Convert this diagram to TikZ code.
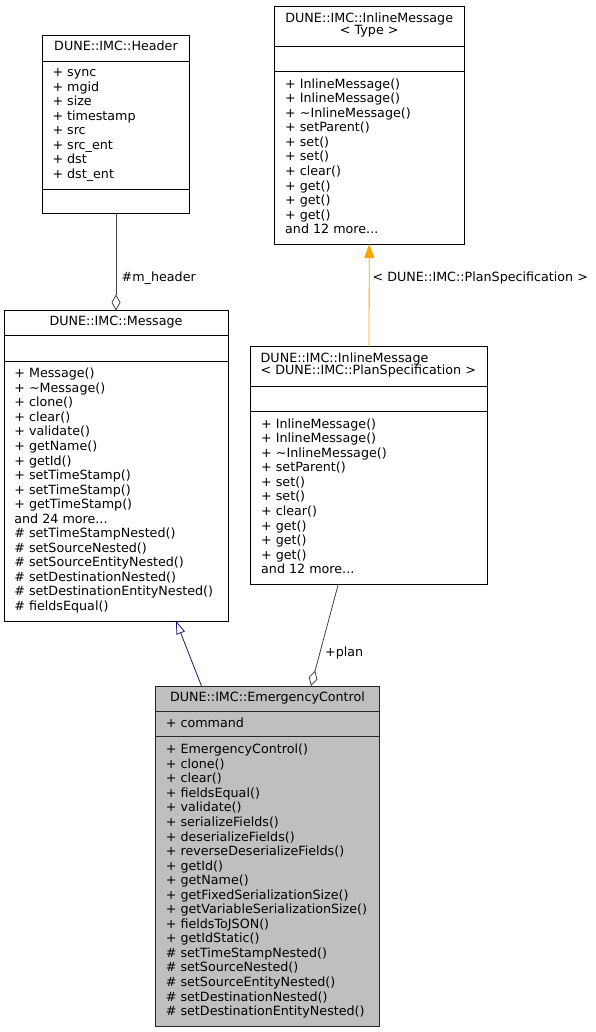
\documentclass[tikz,border=0pt]{standalone}
\usepackage{fontspec}
\setmainfont{DejaVu Sans}
\usetikzlibrary{arrows.meta}
\newcommand\clsfont{\fontsize{12.7}{14.55}\selectfont\lineskiplimit=-20pt\lineskip=0pt}
\newcommand\ttlfont{\fontsize{12.7}{12}\selectfont\lineskiplimit=-20pt\lineskip=0pt}
\newcommand\strutx{\rule{0pt}{10pt}}
\definecolor{edgegray}{HTML}{404040}
\definecolor{inhblue}{HTML}{191970}
\definecolor{tmplorange}{HTML}{FFA500}
\definecolor{ecfill}{HTML}{BFBFBF}
\tikzset{
  cls/.style={draw=black, line width=0.9pt, fill=white, rectangle, inner sep=0pt, outer sep=0pt, anchor=north west},
  sepline/.style={draw=black, line width=0.9pt},
  txt/.style={inner sep=0pt, font=\clsfont, align=left, anchor=north west},
  ttl/.style={inner sep=0pt, font=\clsfont, anchor=base},
  ttl2/.style={inner sep=0pt, font=\ttlfont, anchor=north},
  lbl/.style={inner sep=0pt, font=\clsfont, anchor=base west},
  agg/.style={draw=edgegray, line width=0.8pt, {Diamond[open, fill=white, length=16pt, width=9pt, line width=0.8pt]}-},
  inh/.style={draw=inhblue, line width=0.8pt, -{Triangle[open, fill=white, length=13pt, width=9pt, line width=0.8pt]}},
  tmpl/.style={draw=tmplorange, line width=0.8pt, -{Triangle[length=14pt, width=10pt]}},
}
\begin{document}
\begin{tikzpicture}[x=1pt,y=-1pt]
\useasboundingbox (0,0) rectangle (595,1032);

% ---------- DUNE::IMC::Header ----------
\node[cls, minimum width=147pt, minimum height=178pt] (hdr) at (42.5,35.5) {};
\draw[sepline] ([yshift=-25.5pt]hdr.north west) -- ([yshift=-25.5pt]hdr.north east);
\draw[sepline] ([yshift=24pt]hdr.south west) -- ([yshift=24pt]hdr.south east);
\node[ttl] (hdrt) at (116,50.5) {DUNE::IMC::Header};
\node[txt] (hdra) at (52.3,66.5) {\strutx+ sync\\+ mgid\\+ size\\+ timestamp\\+ src\\+ src\_ent\\+ dst\\+ dst\_ent};

% ---------- DUNE::IMC::InlineMessage< Type > ----------
\node[cls, minimum width=189.5pt, minimum height=237.5pt] (tp) at (274.5,6.5) {};
\draw[sepline] ([yshift=-40pt]tp.north west) -- ([yshift=-40pt]tp.north east);
\draw[sepline] ([yshift=-65pt]tp.north west) -- ([yshift=-65pt]tp.north east);
\node[ttl2, align=center] (tpt) at (369.25,12.7) {\strutx DUNE::IMC::InlineMessage\\< Type >};
\node[txt] (tpm) at (285,78) {\strutx+ InlineMessage()\\+ InlineMessage()\\+ \textasciitilde InlineMessage()\\+ setParent()\\+ set()\\+ set()\\+ clear()\\+ get()\\+ get()\\+ get()\\and 12 more...};

% ---------- DUNE::IMC::Message ----------
\node[cls, minimum width=224pt, minimum height=310.5pt] (msg) at (4,310.5) {};
\draw[sepline] ([yshift=-24.5pt]msg.north west) -- ([yshift=-24.5pt]msg.north east);
\draw[sepline] ([yshift=-50.5pt]msg.north west) -- ([yshift=-50.5pt]msg.north east);
\node[ttl] (msgt) at (116,325.5) {DUNE::IMC::Message};
\node[txt] (msgm) at (14.2,367.5) {\strutx+ Message()\\+ \textasciitilde Message()\\+ clone()\\+ clear()\\+ validate()\\+ getName()\\+ getId()\\+ setTimeStamp()\\+ setTimeStamp()\\+ getTimeStamp()\\and 24 more...\\\# setTimeStampNested()\\\# setSourceNested()\\\# setSourceEntityNested()\\\# setDestinationNested()\\\# setDestinationEntityNested()\\\# fieldsEqual()};

% ---------- DUNE::IMC::InlineMessage< DUNE::IMC::PlanSpecification > ----------
\node[cls, minimum width=237pt, minimum height=237.5pt] (ps) at (250.5,346.5) {};
\draw[sepline] ([yshift=-40pt]ps.north west) -- ([yshift=-40pt]ps.north east);
\draw[sepline] ([yshift=-65pt]ps.north west) -- ([yshift=-65pt]ps.north east);
\node[ttl2, align=left, anchor=north west] (pst) at (260.5,352.7) {\strutx DUNE::IMC::InlineMessage\\< DUNE::IMC::PlanSpecification >};
\node[txt] (psm) at (261,418) {\strutx+ InlineMessage()\\+ InlineMessage()\\+ \textasciitilde InlineMessage()\\+ setParent()\\+ set()\\+ set()\\+ clear()\\+ get()\\+ get()\\+ get()\\and 12 more...};

% ---------- DUNE::IMC::EmergencyControl ----------
\node[cls, fill=ecfill, draw=black!85, minimum width=224pt, minimum height=340pt] (ec) at (155.5,686) {};
\draw[sepline, draw=black!85] ([yshift=-25pt]ec.north west) -- ([yshift=-25pt]ec.north east);
\draw[sepline, draw=black!85] ([yshift=-50.5pt]ec.north west) -- ([yshift=-50.5pt]ec.north east);
\node[ttl] (ect) at (267.5,701.5) {DUNE::IMC::EmergencyControl};
\node[txt] (eca) at (165.7,717) {\strutx+ command};
\node[txt] (ecm) at (165.7,743.5) {\strutx+ EmergencyControl()\\+ clone()\\+ clear()\\+ fieldsEqual()\\+ validate()\\+ serializeFields()\\+ deserializeFields()\\+ reverseDeserializeFields()\\+ getId()\\+ getName()\\+ getFixedSerializationSize()\\+ getVariableSerializationSize()\\+ fieldsToJSON()\\+ getIdStatic()\\\# setTimeStampNested()\\\# setSourceNested()\\\# setSourceEntityNested()\\\# setDestinationNested()\\\# setDestinationEntityNested()};

% ---------- connectors ----------
\draw[agg] (msg.north) -- (hdr.south);
\node[lbl] (l1) at (121.5,281) {\#m\_header};

\draw[tmpl] (ps.north) -- (tp.south);
\node[lbl] (l2) at (372.5,281) {< DUNE::IMC::PlanSpecification >};

\draw[inh] ([xshift=46pt]ec.north west) -- ([xshift=172pt]msg.south west);

\draw[agg] ([xshift=155.5pt]ec.north west) -- ([xshift=87.8pt]ps.south west);
\node[lbl] (l3) at (325,656) {+plan};
\end{tikzpicture}
\end{document}
